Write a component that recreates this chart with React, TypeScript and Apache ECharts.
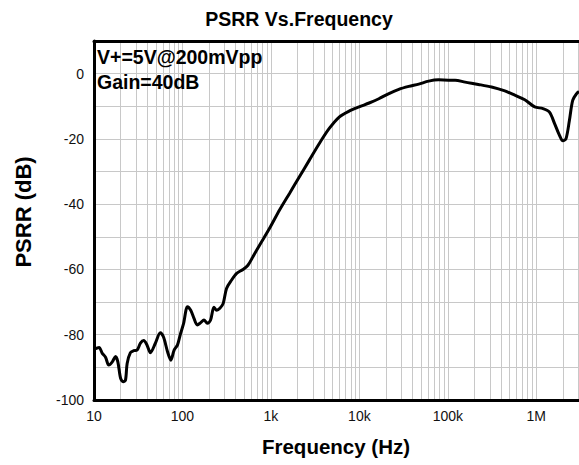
import React, { useEffect, useRef } from "react";
import * as echarts from "echarts";

// Frequency (Hz) and PSRR (dB)
const freqHz = [
  10, 11.4, 12.4, 13.5, 14.7, 16.1, 17.5, 18.6, 20, 21.4, 22.7, 23.7, 25.8, 28.1, 30.7, 33.5,
  36.5, 39.8, 43.4, 49.4, 56.2, 61.2, 67.8, 74, 80.5, 87.7, 94.2, 102.7, 114, 124, 135, 147,
  161, 175, 191, 208, 227, 244, 265, 289, 315, 358, 410, 484, 550, 626, 747, 966, 1252, 1622,
  2100, 2720, 3525, 4565, 5913, 7660, 9925, 12900, 16600, 21600, 27900, 36200, 46900, 60700,
  78600, 102000, 121000, 157000, 221000, 312000, 441000, 571000, 741000, 960000, 1190000,
  1410000, 1610000, 1830000, 2000000, 2170000, 2370000, 2580000, 2860000, 3040000,
];
const psrrDb = [
  -84.5, -83.9, -85.7, -86.9, -89.3, -88.3, -86.7, -88.3, -93.4, -94.4, -93.9, -88.8, -85.5,
  -84.9, -84.7, -82.6, -81.8, -83.2, -85.5, -82.6, -79.4, -80.8, -85.2, -87.8, -84.7, -83.2,
  -80.1, -76.7, -71.4, -72.5, -75, -77, -76.3, -75.5, -76.5, -75.5, -71.6, -72.5, -71.9, -70.4,
  -65.8, -63.3, -61.2, -60, -58.7, -56.1, -52.5, -47.4, -41.8, -36.7, -31.6, -26.5, -21.4,
  -16.8, -13.3, -11.5, -10.2, -9.0, -7.7, -6.1, -4.8, -3.9, -3.2, -2.3, -1.9, -2.0, -2.0, -2.6,
  -3.3, -4.1, -5.3, -6.6, -8.0, -10.2, -10.7, -11.8, -15.3, -18.9, -20.6, -19.9, -14.3, -8.2,
  -6.1, -5.5,
];

const xTickValues = [10, 100, 1000, 10000, 100000, 1000000];
const xTickLabels = ["10", "100", "1k", "10k", "100k", "1M"];
const yHorizontalLines = [-90, -80, -70, -60, -50, -40, -30, -20, -10, 0];
const decadeMultipliers = [1, 2, 3, 4, 5, 6, 7, 8, 9];

const X_MIN = 10;
const X_MAX = 3.04e6;
const Y_MIN = -100;
const Y_MAX = 10;

const FONT = 'Arial, "Liberation Sans", sans-serif';
const GRID_COLOR = "#c8c8c8";

export default function App() {
  const ref = useRef<HTMLDivElement>(null);

  useEffect(() => {
    if (!ref.current) return;
    const chart = echarts.init(ref.current, null, { renderer: "svg" });

    const verticalLines: { xAxis: number }[] = [];
    xTickValues.forEach((d) => {
      decadeMultipliers.forEach((m) => {
        const v = d * m;
        if (v > X_MIN && v < X_MAX) verticalLines.push({ xAxis: v });
      });
    });
    const horizontalLines = yHorizontalLines.map((v) => ({ yAxis: v }));

    const data = freqHz.map((f, i) => [f, psrrDb[i]]);

    chart.setOption({
      animation: false,
      backgroundColor: "#ffffff",
      grid: { left: 94, top: 41, bottom: 65, right: -3, containLabel: false },
      xAxis: [
        {
          type: "log",
          logBase: 10,
          min: X_MIN,
          max: X_MAX,
          position: "bottom",
          z: 10,
          axisLine: { show: true, onZero: false, lineStyle: { color: "#000", width: 3 } },
          axisTick: { show: false },
          splitLine: { show: false },
          axisLabel: {
            margin: 9,
            fontSize: 14,
            color: "#111",
            fontFamily: FONT,
            showMaxLabel: false,
            formatter: (v: number) => {
              const idx = xTickValues.findIndex((t) => Math.abs(Math.log10(v) - Math.log10(t)) < 1e-6);
              return idx >= 0 ? xTickLabels[idx] : "";
            },
          },
        },
        {
          type: "log",
          logBase: 10,
          min: X_MIN,
          max: X_MAX,
          position: "top",
          z: 10,
          axisLine: { show: true, onZero: false, lineStyle: { color: "#000", width: 3 } },
          axisTick: { show: false },
          axisLabel: { show: false },
          splitLine: { show: false },
        },
      ],
      yAxis: {
        type: "value",
        min: Y_MIN,
        max: Y_MAX,
        interval: 10,
        z: 10,
        axisLine: { show: true, onZero: false, lineStyle: { color: "#000", width: 3 } },
        axisTick: { show: false },
        splitLine: { show: false },
        axisLabel: {
          margin: 10,
          fontSize: 14,
          color: "#111",
          fontFamily: FONT,
          formatter: (v: number) => (v <= 0 && v % 20 === 0 ? String(v) : ""),
        },
      },
      series: [
        {
          type: "line",
          data: [],
          z: 1,
          silent: true,
          markLine: {
            silent: true,
            symbol: ["none", "none"],
            label: { show: false },
            lineStyle: { color: GRID_COLOR, width: 1, type: "solid" },
            emphasis: { disabled: true },
            data: [...verticalLines, ...horizontalLines],
          },
        },
        {
          type: "line",
          data,
          z: 5,
          showSymbol: false,
          symbol: "none",
          smooth: 0.3,
          lineStyle: { color: "#000", width: 3 },
          clip: true,
        },
      ],
      graphic: [
        {
          type: "text",
          x: 299,
          y: 19,
          z: 100,
          style: {
            text: "PSRR Vs.Frequency",
            font: `bold 19.5px ${FONT}`,
            fill: "#000",
            textAlign: "center",
            textVerticalAlign: "middle",
          },
        },
        {
          type: "text",
          x: 23,
          y: 212,
          rotation: Math.PI / 2,
          z: 100,
          style: {
            text: "PSRR (dB)",
            font: `bold 22px ${FONT}`,
            fill: "#000",
            textAlign: "center",
            textVerticalAlign: "middle",
          },
        },
        {
          type: "text",
          x: 336,
          y: 446,
          z: 100,
          style: {
            text: "Frequency (Hz)",
            font: `bold 20.5px ${FONT}`,
            fill: "#000",
            textAlign: "center",
            textVerticalAlign: "middle",
          },
        },
        {
          type: "text",
          x: 97,
          y: 56.5,
          z: 100,
          style: {
            text: "V+=5V@200mVpp",
            font: `bold 19.5px ${FONT}`,
            fill: "#000",
            textAlign: "left",
            textVerticalAlign: "middle",
          },
        },
        {
          type: "text",
          x: 97,
          y: 81.5,
          z: 100,
          style: {
            text: "Gain=40dB",
            font: `bold 19.5px ${FONT}`,
            fill: "#000",
            textAlign: "left",
            textVerticalAlign: "middle",
          },
        },
      ],
    });

    return () => chart.dispose();
  }, []);

  return (
    <div
      ref={ref}
      style={{ position: "fixed", left: 0, top: 0, width: 579, height: 465, background: "#fff" }}
    />
  );
}
